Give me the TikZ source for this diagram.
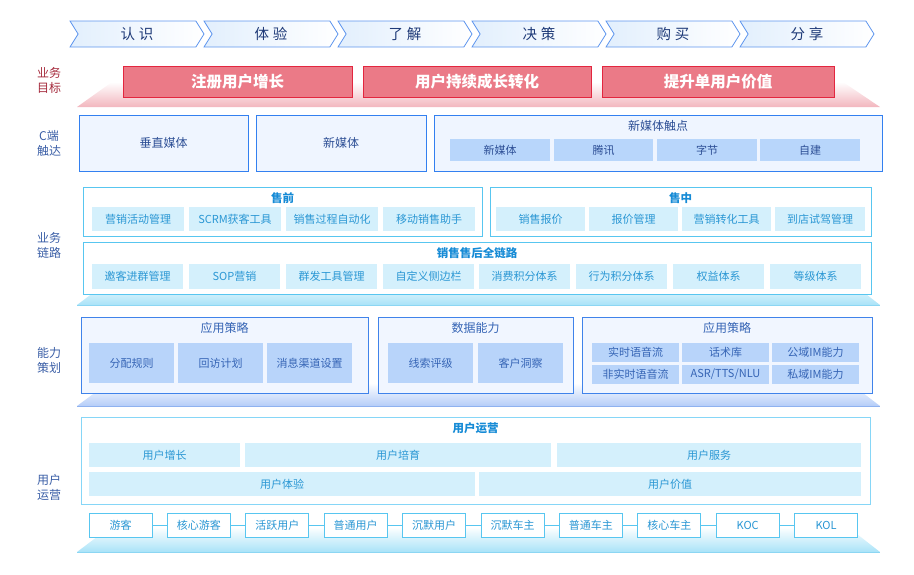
\documentclass[tikz,border=0pt]{standalone}
\usepackage{fontspec}
\setmainfont{Noto Sans CJK SC}
\usetikzlibrary{shapes.symbols}
\definecolor{stageline}{HTML}{5F96EE}
\definecolor{stagefill}{HTML}{E2EFFD}
\definecolor{stagetext}{HTML}{1E3A78}
\definecolor{goalline}{HTML}{E3263F}
\definecolor{goalfill}{HTML}{EB7A87}
\definecolor{redfade}{HTML}{F2B6BE}
\definecolor{sidered}{HTML}{A52A3C}
\definecolor{sideblue}{HTML}{3A5EA6}
\definecolor{touchline}{HTML}{3380F0}
\definecolor{touchfill}{HTML}{EFF5FF}
\definecolor{touchsubfill}{HTML}{B8D6FB}
\definecolor{touchtext}{HTML}{2C4E95}
\definecolor{chainline}{HTML}{58C6F0}
\definecolor{chaintitle}{HTML}{168BD6}
\definecolor{chainsubfill}{HTML}{D4F0FC}
\definecolor{chaintext}{HTML}{2A97D4}
\definecolor{cyanfade}{HTML}{A9E3F8}
\definecolor{cyanedge}{HTML}{8CD6F3}
\definecolor{abilline}{HTML}{4083EA}
\definecolor{abilfill}{HTML}{F1F6FF}
\definecolor{abilsubfill}{HTML}{B8D4FA}
\definecolor{abiltext}{HTML}{3564B5}
\definecolor{bluefade}{HTML}{B5CDF8}
\definecolor{blueedge}{HTML}{8FB2F0}
\definecolor{userline}{HTML}{86D6F7}
\tikzset{stage/.style={signal, signal from=west, signal to=east, signal pointer angle=116,
    minimum width=134pt, minimum height=26pt, inner sep=0pt, draw=stageline, line width=0.8pt,
    left color=stagefill, right color=white, text=stagetext, font=\fontsize{14.5}{15}\selectfont},
  goal/.style={draw=goalline, fill=goalfill, line width=1pt, minimum height=31pt, inner sep=0pt,
    text=white, font=\bfseries\fontsize{15.5}{16}\selectfont},
  side/.style={align=center, font=\fontsize{12}{15}\selectfont},
  touch/.style={draw=touchline, fill=touchfill, line width=1pt, minimum height=56pt, inner sep=0pt,
    text=touchtext, font=\fontsize{12}{12}\selectfont},
  touchsub/.style={fill=touchsubfill, minimum height=22pt, inner sep=0pt, text=touchtext},
  sect/.style={draw=chainline, fill=white, line width=1pt, inner sep=0pt},
  secttitle/.style={text=chaintitle, font=\bfseries\fontsize{11.5}{12}\selectfont},
  sectsub/.style={fill=chainsubfill, minimum height=24pt, inner sep=0pt, text=chaintext},
  abil/.style={draw=abilline, fill=abilfill, line width=1pt, minimum height=76pt, inner sep=0pt},
  abiltitle/.style={text=abiltext, font=\fontsize{12}{12}\selectfont},
  abilsub/.style={fill=abilsubfill, minimum height=40pt, inner sep=0pt, text=abiltext},
  chainbox/.style={draw=chainline, fill=white, line width=1pt, minimum width=63pt, minimum height=24pt,
    inner sep=0pt, text=chaintext},
  link/.style={draw=chainline, line width=1pt}}

\begin{document}
\begin{tikzpicture}[x=1pt, y=-1pt, font=\fontsize{11}{11}\selectfont]
  \useasboundingbox (0,0) rectangle (914,574);
  % plates under the layers
  \shade[top color=white, bottom color=redfade] (77,107) -- (112,82) -- (843,82) -- (880,107) -- cycle;
  \shade[top color=white, bottom color=cyanfade] (77,305) -- (110,280) -- (848,280) -- (880,305) -- cycle;
  \draw[cyanedge] (77,305) -- (880,305);
  \shade[top color=white, bottom color=bluefade] (77,406) -- (108,383) -- (850,383) -- (880,406) -- cycle;
  \draw[blueedge] (77,406) -- (880,406);
  \shade[top color=white, bottom color=cyanfade] (77,552) -- (110,527) -- (848,527) -- (880,552) -- cycle;
  \draw[cyanedge] (77,552) -- (880,552);

  % customer journey
  \node[stage] (s1) at (137,34) {认\hspace{4pt}识};
  \node[stage] (s2) at (271,34) {体\hspace{4pt}验};
  \node[stage] (s3) at (405,34) {了\hspace{4pt}解};
  \node[stage] (s4) at (539,34) {决\hspace{4pt}策};
  \node[stage] (s5) at (673,34) {购\hspace{4pt}买};
  \node[stage] (s6) at (807,34) {分\hspace{4pt}享};

  % row labels
  \node[side, text=sidered] (l1) at (49,80) {业务\\目标};
  \node[side, text=sideblue] (l2) at (49,143) {C端\\触达};
  \node[side, text=sideblue] (l3) at (49,245) {业务\\链路};
  \node[side, text=sideblue] (l4) at (49,360) {能力\\策划};
  \node[side, text=sideblue] (l5) at (49,487) {用户\\运营};

  % business goals
  \node[goal, minimum width=229pt] (g1) at (237.5,81.5) {注册用户增长};
  \node[goal, minimum width=228pt] (g2) at (477,81.5) {用户持续成长转化};
  \node[goal, minimum width=232pt] (g3) at (718,81.5) {提升单用户价值};

  % C-side touch points
  \node[touch, minimum width=169pt] (t1) at (163.5,143) {垂直媒体};
  \node[touch, minimum width=170pt] (t2) at (341,143) {新媒体};
  \node[touch, minimum width=448pt] (t3) at (658,143) {};
  \node[text=touchtext, font=\fontsize{12}{12}\selectfont] (t3h) at (658,126) {新媒体触点};
  \node[touchsub, minimum width=100pt] (t31) at (500,150) {新媒体};
  \node[touchsub, minimum width=99pt] (t32) at (603.5,150) {腾讯};
  \node[touchsub, minimum width=100pt] (t33) at (707,150) {字节};
  \node[touchsub, minimum width=100pt] (t34) at (810,150) {自建};

  % pre-sale
  \node[sect, minimum width=399pt, minimum height=49pt] (pre) at (282.5,211.5) {};
  \node[secttitle] (preh) at (282.5,198) {售前};
  \node[sectsub, minimum width=92pt] (p1) at (138,219) {营销活动管理};
  \node[sectsub, minimum width=92pt] (p2) at (235,219) {SCRM获客工具};
  \node[sectsub, minimum width=92pt] (p3) at (332,219) {销售过程自动化};
  \node[sectsub, minimum width=92pt] (p4) at (429,219) {移动销售助手};
  % in-sale
  \node[sect, minimum width=381pt, minimum height=49pt] (mid) at (680.5,211.5) {};
  \node[secttitle] (midh) at (680.5,198) {售中};
  \node[sectsub, minimum width=89pt] (m1) at (540.5,219) {销售报价};
  \node[sectsub, minimum width=89pt] (m2) at (633.5,219) {报价管理};
  \node[sectsub, minimum width=89pt] (m3) at (726.5,219) {营销转化工具};
  \node[sectsub, minimum width=90pt] (m4) at (820,219) {到店试驾管理};
  % full chain
  \node[sect, minimum width=788pt, minimum height=52pt] (full) at (477,268) {};
  \node[secttitle] (fullh) at (477,253) {销售售后全链路};
  \node[sectsub, minimum width=91pt, minimum height=25pt] (f1) at (137.5,276.5) {邀客进群管理};
  \node[sectsub, minimum width=91pt, minimum height=25pt] (f2) at (234.5,276.5) {SOP营销};
  \node[sectsub, minimum width=91pt, minimum height=25pt] (f3) at (331.5,276.5) {群发工具管理};
  \node[sectsub, minimum width=91pt, minimum height=25pt] (f4) at (428.5,276.5) {自定义侧边栏};
  \node[sectsub, minimum width=91pt, minimum height=25pt] (f5) at (524.5,276.5) {消费积分体系};
  \node[sectsub, minimum width=91pt, minimum height=25pt] (f6) at (621.5,276.5) {行为积分体系};
  \node[sectsub, minimum width=91pt, minimum height=25pt] (f7) at (718.5,276.5) {权益体系};
  \node[sectsub, minimum width=91pt, minimum height=25pt] (f8) at (815.5,276.5) {等级体系};

  % capability planning
  \node[abil, minimum width=287pt] (a1) at (224.5,355) {};
  \node[abiltitle] (a1h) at (224.5,328) {应用策略};
  \node[abilsub, minimum width=85pt] (a11) at (131.5,363) {分配规则};
  \node[abilsub, minimum width=85pt] (a12) at (220.5,363) {回访计划};
  \node[abilsub, minimum width=85pt] (a13) at (309.5,363) {消息渠道设置};
  \node[abil, minimum width=195pt] (a2) at (475.5,355) {};
  \node[abiltitle] (a2h) at (475.5,328) {数据能力};
  \node[abilsub, minimum width=85pt] (a21) at (430.5,363) {线索评级};
  \node[abilsub, minimum width=85pt] (a22) at (520.5,363) {客户洞察};
  \node[abil, minimum width=290pt] (a3) at (727,355) {};
  \node[abiltitle] (a3h) at (727,328) {应用策略};
  \node[abilsub, minimum width=87pt, minimum height=19pt] (a31) at (635.5,352.5) {实时语音流};
  \node[abilsub, minimum width=87pt, minimum height=19pt] (a32) at (725.5,352.5) {话术库};
  \node[abilsub, minimum width=87pt, minimum height=19pt] (a33) at (815.5,352.5) {公域IM能力};
  \node[abilsub, minimum width=87pt, minimum height=19pt] (a34) at (635.5,374) {非实时语音流};
  \node[abilsub, minimum width=87pt, minimum height=19pt] (a35) at (725.5,374) {ASR/TTS/NLU};
  \node[abilsub, minimum width=87pt, minimum height=19pt] (a36) at (815.5,374) {私域IM能力};

  % user operation
  \node[sect, draw=userline, minimum width=789pt, minimum height=87pt] (ops) at (475.5,460.5) {};
  \node[secttitle] (opsh) at (475.5,428) {用户运营};
  \node[sectsub, minimum width=151pt] (o1) at (164.5,455) {用户增长};
  \node[sectsub, minimum width=306pt] (o2) at (398,455) {用户培育};
  \node[sectsub, minimum width=304pt] (o3) at (709,455) {用户服务};
  \node[sectsub, minimum width=386pt] (o4) at (282,484) {用户体验};
  \node[sectsub, minimum width=382pt] (o5) at (670,484) {用户价值};
  % user ladder
  \node[chainbox] (u1) at (120.5,525) {游客};
  \node[chainbox] (u2) at (198.9,525) {核心游客};
  \node[chainbox] (u3) at (277.3,525) {活跃用户};
  \node[chainbox] (u4) at (355.7,525) {普通用户};
  \node[chainbox] (u5) at (434.1,525) {沉默用户};
  \node[chainbox] (u6) at (512.5,525) {沉默车主};
  \node[chainbox] (u7) at (590.9,525) {普通车主};
  \node[chainbox] (u8) at (669.3,525) {核心车主};
  \node[chainbox] (u9) at (747.7,525) {KOC};
  \node[chainbox] (u10) at (826.1,525) {KOL};
  \draw[link] (u1) -- (u2);
  \draw[link] (u2) -- (u3);
  \draw[link] (u3) -- (u4);
  \draw[link] (u4) -- (u5);
  \draw[link] (u5) -- (u6);
  \draw[link] (u6) -- (u7);
  \draw[link] (u7) -- (u8);
  \draw[link] (u8) -- (u9);
  \draw[link] (u9) -- (u10);
\end{tikzpicture}
\end{document}
